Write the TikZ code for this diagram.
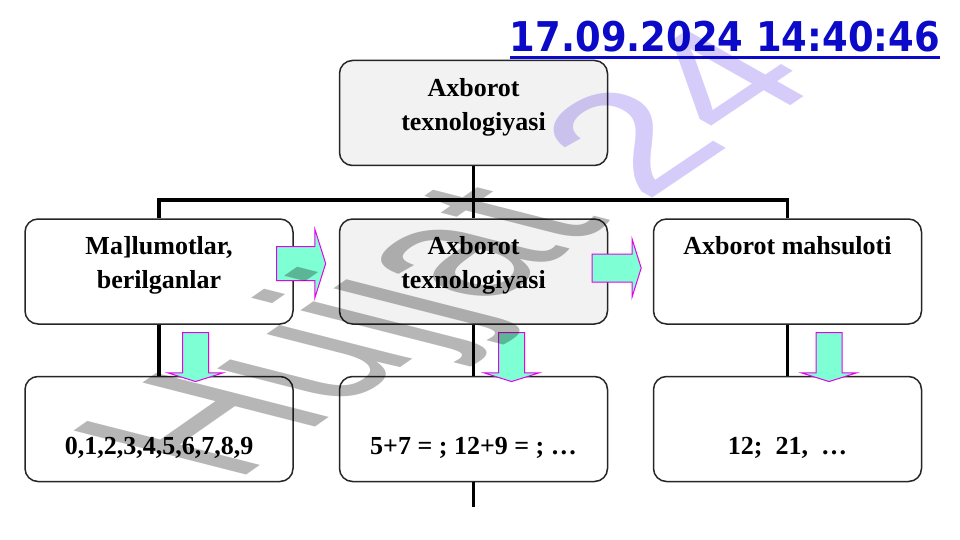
\documentclass[tikz,border=0pt]{standalone}
\usepackage{fontspec}
\setmainfont{Liberation Serif}
\newfontfamily\stampfont[FakeStretch=0.9]{DejaVu Sans}
\newfontfamily\markfont{Liberation Sans}
\usetikzlibrary{shapes.arrows}
\definecolor{stampblue}{RGB}{10,10,200}
\definecolor{boxgray}{RGB}{242,242,242}
\definecolor{flowfill}{RGB}{127,255,212}
\definecolor{flowedge}{RGB}{230,0,230}
\definecolor{markgray}{RGB}{182,182,182}
\definecolor{markviolet}{RGB}{214,204,250}

\begin{document}
\begin{tikzpicture}[x=1pt,y=1pt,
    box/.style={draw=black!85,line width=1.5pt,rounded corners=13pt,%
      minimum width=268pt,minimum height=105pt,inner sep=0pt},
    lbl/.style={font=\fontsize{26}{34}\selectfont\bfseries,align=center,inner sep=0pt},
    link/.style={line width=3.6pt},
    flow/.style={single arrow,draw=flowedge,fill=flowfill,line width=1pt,%
      inner xsep=0pt,minimum height=49pt,single arrow tip angle=145},
    flowdown/.style={flow,rotate=-90,inner ysep=12.5pt,single arrow head extend=14.5pt},
    wmark/.style={transform shape,anchor=base west,inner sep=0pt,%
      font=\markfont\fontsize{172}{172}\selectfont}]
          \fill[white] (0,0) rectangle (960,-540);
          \useasboundingbox (0,0) rectangle (960,-540);
          % boxes
          \node[box,fill=boxgray] (top) at (473.5,-113) {};
          \node[box] (mid1) at (159,-271.5) {};
          \node[box,fill=boxgray] (mid2) at (473.5,-271.5) {};
          \node[box] (mid3) at (787.5,-271.5) {};
          \node[box] (bot1) at (159,-429) {};
          \node[box] (bot2) at (473.5,-429) {};
          \node[box] (bot3) at (787.5,-429) {};
          \node[lbl] (topt) at (473.5,-107.5) {Axborot\\texnologiyasi};
          \node[lbl] (mid1t) at (159,-265) {Ma]lumotlar,\\berilganlar};
          \node[lbl] (mid2t) at (473.5,-265) {Axborot\\texnologiyasi};
          \node[lbl,anchor=base] (mid3t) at (787.5,-254) {Axborot mahsuloti};
          \node[lbl,anchor=base] (bot1t) at (159,-454) {0,1,2,3,4,5,6,7,8,9};
          \node[lbl,anchor=base] (bot2t) at (473.5,-454) {5+7 = ; 12+9 = ; …};
          \node[lbl,anchor=base] (bot3t) at (787.5,-454) {12;\ \ 21,\ \ …};
          % connectors
          \coordinate (fork) at (473.5,-200);
          \coordinate (tail) at (473.5,-507);
          \draw[link] (top) -- (mid2);
          \draw[link] (mid1.north) |- (fork) -| (mid3.north);
          \draw[link] (mid1) -- (bot1);
          \draw[link] (mid2) -- (bot2);
          \draw[link] (mid3) -- (bot3);
          \draw[link] (bot2) -- (tail);
          % block arrows
          \node[flow,inner ysep=16.5pt,single arrow head extend=17pt] (f1) at (298.5,-263.5) {};
          \node[flow,inner ysep=13.5pt,single arrow head extend=15pt] (f2) at (614.5,-268) {};
          \node[flowdown] (d1) at (195.5,-355) {};
          \node[flowdown] (d2) at (511.5,-355) {};
          \node[flowdown] (d3) at (829,-355) {};
          % date stamp
          \node[anchor=base east,inner sep=0pt,text=stampblue,%
            font=\stampfont\bfseries\fontsize{41}{41}\selectfont] (stamp) at (940,-52) %
          {17.09.2024 14:40:46};
          \draw[stampblue,line width=2.6pt] ([yshift=-4.5pt]stamp.south west) -- %
          ([yshift=-4.5pt]stamp.south east);
          % watermark
          \begin{scope}[blend mode=multiply,shift={(234,-484)},cm={0.86,0.6,-1.459,0.372,(0,0)}]
            \node[wmark,text=markgray] (mark1) at (0,0) {Hujjat};
          \end{scope}
          \begin{scope}[blend mode=multiply,shift={(238,-478)},cm={0.829,0.559,-0.871,0.492,(0,0)}]
            \node[wmark,text=markviolet,font=\markfont\fontsize{195}{195}\selectfont] %
            (mark2) at (490,0) {24};
          \end{scope}
        \end{tikzpicture}
\end{document}
